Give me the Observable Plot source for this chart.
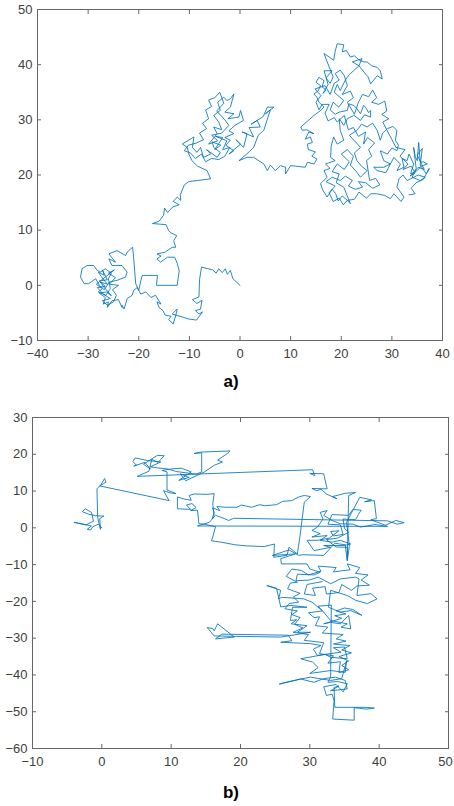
<!DOCTYPE html>
<html><head><meta charset="utf-8">
<script src="https://cdn.jsdelivr.net/npm/d3@7"></script>
<script src="https://cdn.jsdelivr.net/npm/@observablehq/plot@0.6"></script>
<style>
body{margin:0;background:#fff;width:454px;height:806px;position:relative;overflow:hidden;font-family:"Liberation Sans",Arial,sans-serif;}
#a{position:absolute;left:0;top:0;}
#b{position:absolute;left:0;top:400px;}
.cap{position:absolute;font-weight:bold;font-size:17px;transform:translate(-50%,-50%);color:#000;font-family:"Liberation Sans",Arial,sans-serif;}
</style></head><body>
<div id="a"></div><div id="b"></div>
<div class="cap" style="left:231px;top:382px">a)</div>
<div class="cap" style="left:231px;top:793px">b)</div>
<script>
// Panel a: x ticks, y ticks
const ticksAx = [-40,-30,-20,-10,0,10,20,30,40];
const ticksAy = [-10,0,10,20,30,40,50];
// Panel b: x ticks, y ticks
const ticksBx = [-10,0,10,20,30,40,50];
const ticksBy = [-60,-50,-40,-30,-20,-10,0,10,20,30];

// Panel a walk
const walkA = [
[0,0],[-1.4,1.2],[-1.9,2.7],[-2.5,2.0],[-2.9,3.0],[-3.5,2.3],[-4.2,3.0],[-4.7,2.2],[-5.4,2.8],[-7.6,3.3],[-8.0,1.0],[-8.1,-2.1],[-9.4,-2.6],[-8.5,-3.3],[-7.5,-2.7],[-7.8,-4.3],[-8.8,-4.6],[-8.1,-5.2],[-7.4,-4.8],[-8.6,-6.3],[-10.1,-6.1],[-13.4,-5.2],[-12.4,-4.3],[-12.7,-5.5],[-13.2,-7.0],[-14.1,-6.2],[-13.6,-5.6],[-14.8,-5.4],[-15.2,-4.6],[-16.0,-4.0],[-16.4,-3.0],[-15.6,-3.4],[-16.7,-1.8],[-17.6,-2.2],[-18.6,-1.2],[-19.6,-1.6],[-20.3,-0.4],[-21.0,-0.9],[-21.3,-1.8],[-22.3,-2.4],[-22.6,-3.4],[-22.9,-4.3],[-23.3,-3.6],[-23.3,-4.0],[-24.0,-2.6],[-25.3,-2.8],[-26.2,-4.0],[-26.0,-3.0],[-27.0,-3.4],[-26.6,-2.2],[-27.8,-1.4],[-26.4,-1.2],[-25.4,-1.9],[-26.8,-0.4],[-27.6,0.6],[-26.2,0.2],[-27.4,1.6],[-28.0,2.4],[-26.8,1.8],[-27.2,2.8],
[-26.2,1.0],[-27.8,0.8],[-26.6,-0.2],[-28.2,-0.4],[-27.0,-1.6],[-25.6,-2.4],[-27.2,-2.8],[-26.2,-3.6],[-25.0,-3.0],[-24.4,-1.8],[-25.2,-0.8],[-24.0,0.0],[-25.8,0.2],[-24.6,1.4],[-26.0,2.2],[-24.8,2.8],
[-28.4,0.2],[-27.2,-0.6],[-28.0,-1.2],[-26.5,-1.8],[-25.6,-0.6],[-26.0,1.2],[-25.4,2.2],[-26.6,3.0],[-27.6,2.4],[-28.2,2.7],[-28.9,3.6],[-30.2,3.6],[-31.2,3.0],[-31.5,1.5],[-30.8,0.3],[-29.9,0.3],[-28.5,1.2],[-27.8,0.0],[-26.8,-0.8],[-25.8,0.6],[-24.3,0.9],[-22.6,1.5],[-22.3,2.4],[-23.3,3.6],[-25.3,3.6],[-25.9,4.8],[-24.6,4.2],[-25.9,5.7],[-24.3,6.3],[-22.6,5.4],[-22.3,6.0],[-21.6,6.6],[-21.2,6.9],[-21.0,4.8],[-20.6,0.3],[-20.0,-0.9],[-19.6,0.8],[-19.3,1.8],[-16.3,1.8],[-16.5,0.0],[-12.4,0.0],
[-12.2,1.4],[-12.0,2.6],[-12.4,4.0],[-12.9,5.1],[-14.3,5.1],[-15.7,4.2],[-16.4,4.8],[-15.6,5.3],[-16.4,5.7],[-14.8,6.0],[-13.4,6.9],[-12.7,6.9],[-13.1,8.1],[-12.5,9.0],[-13.6,9.5],[-14.1,9.9],[-14.6,11.0],[-17.3,11.2],[-16.0,11.6],[-15.1,12.7],[-14.9,14.0],[-14.3,13.2],[-13.3,14.2],[-12.0,14.6],[-13.2,15.2],[-12.4,16.0],[-11.7,15.4],[-11.8,16.4],[-11.0,18.2],[-10.1,18.8],[-8.4,19.0],[-5.8,19.3],[-6.5,20.8],[-8.4,21.6],[-9.5,22.6],[-10.1,23.8],[-10.4,25.0],[-11.4,25.6],
[-9.1,26.9],[-9.4,25.0],[-8.5,24.1],[-7.8,25.0],[-7.2,23.2],[-5.8,23.8],[-6.6,24.6],[-4.5,23.2],[-3.9,24.1],[-5.2,25.0],[-5.5,26.0],[-3.8,25.4],[-5.0,24.6],[-3.4,26.8],[-4.8,27.0],[-2.6,26.2],
[-3.4,24.6],[-2.0,25.0],[-3.0,23.4],[-4.2,22.8],[-5.6,23.0],[-6.8,22.4],[-7.6,23.8],[-8.8,23.0],[-9.8,24.0],[-11.0,24.4],[-10.2,25.4],[-8.6,25.8],[-7.2,26.4],[-8.0,27.6],[-6.6,28.4],[-7.4,29.4],[-6.2,30.2],[-6.8,31.8],[-5.6,32.4],[-6.2,33.6],[-5.0,34.0],[-4.0,35.0],[-3.2,33.0],[-4.6,31.6],[-3.0,30.0],[-2.2,29.0],[-3.6,27.6],[-5.6,27.2],[-4.4,26.2],[-6.2,25.6],
[-4.5,27.5],[-5.2,28.7],[-3.6,28.2],[-4.2,29.6],[-5.2,30.8],[-3.9,31.7],[-4.4,33.2],[-3.2,34.1],[-2.6,33.5],[-1.9,33.8],[-1.2,34.7],[-1.9,32.3],[-3.0,31.4],[-1.2,31.1],[-2.4,30.2],[-0.2,30.5],[0.1,31.7],[0.7,29.9],[-1.0,29.0],[-2.2,28.0],[-1.2,27.5],[-3.0,26.8],[-1.9,26.3],[-2.8,25.4],[-1.2,24.4],[-2.2,23.8],[0.1,25.6],[-0.8,26.4],[0.7,25.0],[1.4,27.5],[0.4,27.8],[2.7,26.9],[1.8,28.6],[4.0,28.7],[3.4,29.9],[2.2,29.2],[4.6,30.6],[5.4,32.3],[6.7,32.3],[5.0,31.1],[6.0,31.8],[4.7,28.1],[3.6,27.2],[2.7,25.0],[1.8,24.2],[-0.2,22.6],[1.4,23.2],[2.7,23.2],[4.7,22.0],[5.4,20.8],[6.0,21.8],[7.0,20.8],[8.0,21.7],[9.0,21.4],[9.0,20.2],[10.0,21.7],[12.9,21.4],[13.3,22.3],[14.6,22.0],
[15.2,22.9],[14.2,23.4],[14.9,24.2],[13.5,24.6],[13.3,25.6],[14.3,25.9],[13.9,26.9],[12.9,26.5],[13.6,27.8],[14.6,27.5],[13.2,28.2],[12.3,28.1],[12.0,28.7],[13.4,29.8],[14.6,30.8],[15.8,31.6],[16.6,32.3],[15.6,33.2],[15.2,34.1],[14.6,34.7],[15.4,35.2],[15.9,36.2],[15.0,36.8],[15.6,37.7],[16.6,37.1],[16.2,36.0],[17.0,35.4],[16.4,34.8],[17.4,36.4],[16.6,38.9],[18.2,38.9],[17.0,37.6],[17.8,36.6],[18.4,37.8],[17.6,39.6],[16.6,42.0],[17.6,41.4],[18.5,40.8],[18.8,42.4],[19.2,43.8],[20.5,43.6],[20.2,42.3],[21.0,42.6],[21.8,41.4],[22.6,41.6],[23.6,40.8],[24.5,40.5],[25.1,40.5],[26.0,39.8],[27.1,39.5],[27.7,38.9],[28.1,37.4],[27.1,38.0],[26.4,37.2],[25.8,36.5],[25.3,37.8],[24.8,38.3],[23.5,39.8],[22.2,40.5],[24.1,41.1],[23.5,39.8],[21.6,38.2],[20.8,37.2],[19.8,35.3],[19.2,36.4],[18.6,35.0],[20.5,33.5],[19.5,32.3],[18.4,33.2],[17.8,31.8],[18.8,31.0],[19.6,31.4],[21.2,31.7],[21.5,32.9],[22.5,32.6],[23.1,32.0],[23.8,31.1],[24.4,32.6],[24.8,32.3],[25.4,31.3],[25.8,31.7],[25.8,30.5],[24.6,30.9],[23.8,29.9],[22.5,30.8],[21.2,30.2],[20.5,29.0],[19.6,30.2],[19.8,28.1],[20.5,26.3],[19.2,25.6],[18.5,26.9],[18.0,25.2],[17.9,23.2],[18.8,22.6],[16.9,22.0],[17.8,21.2],[16.6,20.8],[17.2,19.6],[15.9,18.4],[16.4,17.2],[17.2,16.0],[18.2,17.4],[18.9,16.6],[19.4,15.3],[20.2,16.2],[21.2,15.4],[21.8,14.8],[21.0,16.6],[20.5,17.8],[19.0,18.6],[19.6,20.2],[18.2,20.6],[19.2,22.0],[20.6,21.0],[21.6,22.4],[20.0,23.8],[21.2,24.6],[22.4,23.4],[21.8,21.8],[23.0,20.6],[23.8,19.6],[25.1,20.8],[24.0,21.6],[23.1,22.6],[22.6,24.0],[23.8,25.0],[22.5,26.3],[21.6,27.2],[23.1,28.1],[24.0,29.2],[25.1,28.7],[26.2,29.4],[27.1,28.1],[27.7,26.3],[28.2,27.6],[29.1,28.4],[30.2,28.8],[31.0,28.1],[30.7,26.3],[31.3,25.4],[31.0,24.4],[30.0,24.9],[29.1,23.8],[27.7,24.4],[28.4,22.6],[29.7,22.0],[28.4,21.4],[26.4,21.4],[27.1,20.8],[28.8,20.4],[30.4,23.2],[31.2,22.4],[31.7,22.0],[31.0,20.8],[32.4,21.4],[32.0,23.0],[33.0,22.6],[33.4,23.8],[34.3,22.0],[33.7,20.2],[35.0,20.8],[35.8,21.6],[37.0,22.0],[36.2,22.4],[35.6,22.3],[35.3,25.9],[35.0,22.6],[34.6,23.4],[34.3,25.0],[34.8,21.2],[34.0,19.6],[35.6,19.0],[36.6,19.6],[35.2,20.0],[33.0,19.0],[32.2,20.0],[31.4,19.3],[31.0,17.8],[32.4,16.0],[31.8,15.2],[30.4,16.6],[29.7,15.7],[28.6,16.3],[27.0,16.6],[25.8,16.6],[25.0,15.8],[23.5,16.9],[22.6,15.6],[21.2,15.4],
[20.4,14.6],[19.6,15.8],[18.4,15.2],[17.6,16.8],[18.8,18.0],[17.0,18.8],[18.2,19.6],[19.8,19.0],[20.8,19.8],[22.2,19.0],[21.4,18.0],[22.8,17.4],[24.2,17.8],[23.4,18.8],[24.8,18.6],[26.2,17.6],[27.6,18.2],[26.8,19.4],[25.6,19.0],[25.0,22.6],[26.0,23.4],[25.4,24.6],[26.6,25.8],[25.2,26.8],[24.4,25.6],[24.8,27.8],[23.4,27.0],[22.4,28.6],[21.4,28.2],[20.6,30.8],[19.2,29.6],[18.6,30.4],[17.4,29.8],[16.8,31.2],[17.6,32.8],[16.2,32.8],[15.6,31.8],[15.0,33.2],[16.0,34.4],[14.8,35.6],[16.8,36.2],[17.8,34.6],[18.6,36.6],[19.6,37.2],[18.8,38.4],[19.8,39.0],[20.6,38.0],[21.2,36.2],[20.2,34.6],[21.8,35.2],[22.4,34.0],[21.2,33.2],[22.6,31.0],[23.4,33.2],[24.2,34.6],[25.4,34.2],[26.2,35.4],[27.0,34.0],[26.0,33.2],[27.4,32.8],[28.6,33.4],[29.0,31.6],[28.0,31.0],[29.4,30.2],[28.2,29.6],
[30.8,25.0],[32.6,24.6],[31.6,23.4],[33.2,22.0],[32.2,21.0],[33.8,21.6],[34.6,20.4],[33.6,19.8],[35.2,21.4],[36.4,21.0],[35.0,23.6],[36.0,24.8],[35.6,21.8],[36.8,20.2],[37.4,21.2],[36.2,19.2],[34.8,18.6],[33.8,17.6],[34.6,16.6],[33.4,16.4]
];

// Panel b walk
const walkB = [
[0,0],[-0.5,1.0],[-1.3,0.3],[-1.6,-0.6],[-2.1,-0.4],[-1.5,0.5],[-2.7,1.0],[-4.0,1.5],[-2.3,0.8],[-1.2,1.8],[-1.5,4.2],[-2.4,5.2],[-2.8,4.4],[-1.9,3.7],[-0.9,3.3],[0.3,3.2],[-0.3,2.5],[-0.2,-0.4],[-0.6,2.8],[-0.7,10.6],[-0.1,11.8],[0.4,13.4],[0.6,12.4],[-0.3,11.4],
[9.7,7.4],[8.9,10.1],[9.9,9.5],[10.7,9.3],[9.4,10.3],[9.4,15.2],[8.7,15.6],[10.4,16.1],[11.5,16.2],[12.9,15.2],[11.1,12.9],[12.6,13.7],[11.3,14.7],[12.1,12.8],[14.8,15.2],[16.2,17.0],[17.4,17.9],[16.7,18.4],[18.1,20.2],[18.5,20.9],[14.3,20.6],[13.3,20.2],[14.4,20.4],[14.4,15.2],[13.6,14.6],[10.8,15.3],[9.5,16.0],[8.0,16.3],[7.0,16.6],[8.5,17.9],[6.6,18.3],[4.8,19.0],[4.5,18.0],[5.0,17.0],[4.6,16.8],[6.2,17.8],[7.0,16.0],[6.0,17.3],[8.0,19.7],[9.0,19.6],[8.1,17.8],[7.2,18.6],[6.8,15.4],[5.1,14.0],
[30.4,15.8],[30.7,14.2],[30.0,14.8],[32.0,14.7],[32.5,10.6],[30.3,10.7],[31.0,10.1],[31.6,10.5],[32.4,9.2],[33.9,7.9],[33.3,8.5],[35.1,9.4],[36.6,9.6],[35.6,8.8],[35.4,-8.9],[35.7,-5.0],[35.3,1.5],[37.2,8.3],[38.9,7.6],[37.9,7.1],[39.3,7.4],[39.6,2.5],[38.8,2.2],[40.9,0.7],[42.4,2.0],[43.6,1.4],[42.6,1.0],[41.2,1.9],
[19.0,2.6],[18.3,2.0],[17.3,2.8],[16.4,3.4],[15.9,2.5],[16.2,4.1],[16.0,5.4],[17.0,4.7],[16.6,5.8],[17.9,5.6],[19.5,5.6],[20.1,6.2],[21.6,5.6],[22.8,6.3],[23.5,6.0],[25.2,6.3],[26.1,7.2],[27.4,7.4],[28.4,8.4],[29.2,8.8],[30.1,8.5],[29.2,7.0],[28.9,2.5],[28.6,-2.0],[28.2,-7.1],[27.0,-5.3],[26.7,-7.5],[24.8,-8.0],[24.9,-4.4],[23.4,-5.1],[20.8,-4.9],[19.2,-4.6],[17.2,-3.9],[15.8,-3.5],[16.0,-2.5],[16.4,0.3],[14.8,1.0],[14.0,1.1],[13.8,4.8],[12.8,4.7],[13.6,5.5],[13.0,6.6],[12.2,6.2],[12.8,5.0],[10.9,5.2],[10.9,8.4],[11.9,7.8],[12.9,7.5],[12.6,8.8],[13.3,9.2],[15.2,9.1],[16.2,9.3],[16.0,6.5],[16.2,3.0],[15.5,1.5],[13.8,0.5],
[41.2,0.4],[39.4,0.9],[37.3,0.2],[36.2,1.0],[34.4,1.1],[33.2,2.0],[32.0,3.4],[32.5,4.7],[31.5,4.2],[31.9,2.4],[31.1,0.2],[30.3,-0.7],[31.5,-1.6],[30.3,-2.5],[32.5,-2.1],[31.5,-3.4],[33.2,-3.9],[34.4,-3.4],[35.9,-4.4],[34.9,-4.8],[32.0,-4.8],[33.0,-5.3],[30.6,-6.2],[29.6,-3.4],[31.1,-3.4],[32.8,-2.8],
[34.2,-0.8],[33.0,-1.0],[33.4,-2.2],[34.8,-1.8],[34.4,0.8],[32.6,1.0],[33.2,3.6],[35.6,3.4],[36.2,5.0],[37.4,4.8],[37.0,3.6],[36.6,2.2],[34.8,2.4],[35.0,-0.2],[35.6,-1.2],[34.0,-2.8],[32.4,-3.2],[32.8,-3.8],[33.8,-5.2],
[35.4,-5.3],[35.4,-8.9],[35.1,-4.6],[33.6,-4.2],[32.0,-7.5],[29.0,-7.3],[28.4,-7.5],[27.0,-6.0],[24.6,-7.5],[27.9,-7.1],[25.8,-8.4],[25.9,-9.8],[27.9,-9.8],[29.6,-9.8],[30.0,-11.2],[31.5,-12.1],[30.6,-12.8],[28.2,-12.6],[28.0,-14.4],[29.9,-14.2],[31.2,-13.4],[33.0,-15.2],[34.4,-13.9],[36.6,-13.4],[37.1,-13.9],[36.8,-18.4],[38.8,-17.9],[39.7,-19.3],[38.3,-20.6],[36.6,-19.7],[35.4,-18.4],[33.0,-17.0],[32.7,-21.6],[34.4,-22.9],[35.9,-22.5],[37.5,-23.8],[36.2,-22.2],[35.0,-21.8],[33.8,-22.6],[35.2,-23.4],[33.6,-23.9],[34.6,-24.6],[32.0,-26.1],[33.0,-25.7],[34.4,-26.1],[35.6,-23.8],[35.9,-27.5],[34.5,-27.0],[35.4,-26.1],[33.0,-25.2],[31.8,-22.5],[30.3,-20.2],[29.1,-19.3],[26.0,-18.9],[25.5,-19.3],[25.8,-17.0],[23.8,-15.7],[25.2,-16.4],[25.8,-21.5],[27.3,-21.1],[29.6,-21.6],[27.5,-21.6],[27.2,-25.2],[28.1,-25.0],[27.3,-26.1],[29.6,-26.6],[28.2,-28.4],[30.1,-28.4],[25.8,-29.7],[16.2,-29.4],[15.2,-27.1],[16.0,-27.4],[16.2,-28.0],[16.7,-26.1],[19.1,-29.7],[16.4,-30.2],[17.3,-28.9],[26.9,-29.2],[27.4,-30.7],[25.8,-31.1],[30.1,-31.5],[31.6,-32.0],[30.5,-33.0],[31.1,-34.7],[34.5,-33.8],[33.4,-32.6],[35.0,-32.4],[35.4,-35.6],[33.0,-35.2],[32.2,-34.4],[28.7,-35.6],[30.4,-36.5],[31.2,-38.0],[30.0,-39.6],[33.0,-38.8],[35.1,-39.3],[35.3,-36.2],[34.6,-41.0],[33.0,-41.5],[30.1,-40.6],[28.7,-41.1],[25.6,-42.5],[26.3,-42.1],[28.7,-41.1],[30.6,-42.0],[32.0,-41.0],[33.7,-40.6],[35.1,-41.5],[35.4,-43.8],[33.0,-44.3],[34.2,-43.0],[33.5,-43.4],[33.6,-48.8],[37.8,-48.8],[39.3,-49.0],[38.2,-49.3],[36.4,-48.9],[36.4,-52.3],[33.3,-52.0],
[33.5,-47.0],[33.2,-45.2],[32.4,-45.6],[32.0,-43.2],[33.8,-42.6],[34.8,-44.6],[35.4,-42.4],[34.0,-41.8],[32.6,-42.0],[33.0,-40.6],[33.1,-21.0],[31.2,-21.3],[31.8,-22.6],[29.8,-23.1],[30.6,-24.4],[31.4,-24.2],[30.8,-26.6],[32.6,-27.0],[31.8,-28.6],[34.8,-29.0],[33.8,-30.2],[35.2,-30.8],[33.4,-31.6],[35.8,-32.0],[34.6,-33.2],[36.0,-34.0],[34.2,-35.0],[35.6,-36.2],[34.6,-37.4],[35.6,-38.6],[34.2,-39.4],[34.4,-36.4],[32.6,-36.8],[33.4,-34.8],[31.4,-34.2],[32.0,-31.2],[29.2,-30.6],[29.8,-29.0],[27.6,-28.4],[29.0,-27.2],[27.8,-26.2],[28.6,-24.4],[27.4,-23.6],[28.2,-22.6],[26.4,-22.0],[27.0,-20.6],[28.4,-20.2],[27.6,-18.8],[28.6,-17.8],[26.8,-16.6],[27.2,-15.0],[28.2,-14.8],[26.6,-13.2],[27.4,-11.2],[28.8,-11.6],[29.8,-12.8],[31.6,-11.8],[31.2,-10.4],[33.8,-10.8],[33.4,-12.0],[35.8,-11.4],[35.4,-9.8],[37.2,-10.8],[36.6,-12.4],[38.4,-12.8],[37.4,-14.2],[38.6,-15.6],[36.8,-15.8],[36.0,-17.0],[34.6,-15.4],[34.2,-17.6],[32.4,-18.0],[32.2,-16.0],[30.4,-16.4],[30.8,-18.4],[29.2,-18.0],[29.6,-15.4],[31.8,-14.6]
];

const LINE = "#0072BD", AXC = "#666", TXT = "#404040";

function panel(walk, xDom, yDom, xt, yt, m, h, lastShift) {
  const xtMain = lastShift ? xt.slice(0, -1) : xt;
  const xtLast = lastShift ? xt.slice(-1) : [];
  return Plot.plot({
    width: 454, height: h,
    marginLeft: m[3], marginRight: m[1], marginTop: m[0], marginBottom: m[2],
    x: {domain: xDom, label: null},
    y: {domain: yDom, label: null},
    style: {fontFamily: "'Liberation Sans', Arial, sans-serif", fontSize: "13px", background: "transparent", overflow: "visible"},
    marks: [
      Plot.line(walk, {x: d => d[0], y: d => d[1], stroke: LINE, strokeWidth: 0.85}),
      Plot.frame({stroke: AXC}),
      Plot.axisX(xtMain, {anchor: "bottom", tickSize: 0, tickPadding: 8, stroke: "none", fill: TXT, fontSize: 13, label: null}),
      lastShift ? Plot.axisX(xtLast, {anchor: "bottom", tickSize: 0, tickPadding: 8, stroke: "none", fill: TXT, fontSize: 13, label: null, dx: -lastShift}) : null,
      Plot.axisY(yt, {anchor: "left", tickSize: 0, tickPadding: 5, stroke: "none", fill: TXT, fontSize: 13, label: null}),
      Plot.axisX(xt, {anchor: "bottom", tickSize: 4, dy: -4, fill: "none", stroke: AXC, label: null}),
      Plot.axisX(xt, {anchor: "top", tickSize: 4, dy: 4, fill: "none", stroke: AXC, label: null}),
      Plot.axisY(yt, {anchor: "left", tickSize: 4, dx: 4, fill: "none", stroke: AXC, label: null}),
      Plot.axisY(yt, {anchor: "right", tickSize: 4, dx: -4, fill: "none", stroke: AXC, label: null})
    ]
  });
}

document.getElementById("a").append(panel(walkA, [-40, 40], [-10, 50], ticksAx, ticksAy, [9, 12, 30, 37], 370, 0));
document.getElementById("b").append(panel(walkB, [-10, 50], [-60, 30], ticksBx, ticksBy, [17, 6, 32, 32], 380, 3));
</script>
</body></html>
